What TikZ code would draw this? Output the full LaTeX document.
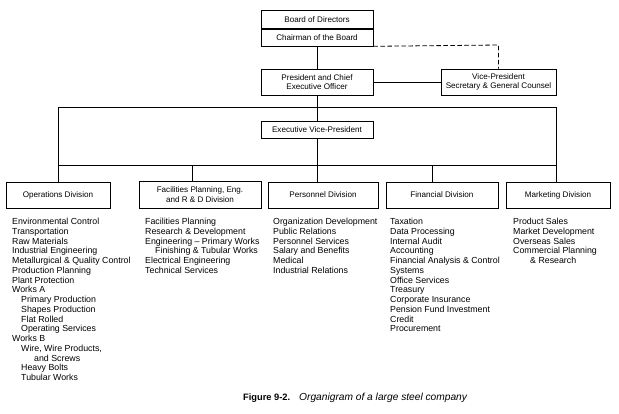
\documentclass[tikz,border=0pt]{standalone}
\usepackage{fontspec}
\setmainfont{Liberation Sans}
\begin{document}
\begin{tikzpicture}[x=1pt,y=-1pt,
  box/.style={draw, line width=0.7pt, inner sep=0pt, align=center, font=\fontsize{8.1}{9.6}\selectfont},
  ln/.style={line width=0.8pt},
  dln/.style={line width=0.8pt, dash pattern=on 4.5pt off 2.5pt},
  listtext/.style={anchor=north west, inner sep=0pt, align=left, font=\fontsize{8.8}{9.75}\selectfont}]
\useasboundingbox (0,0) rectangle (619,413);
% top boxes
\node[box, minimum width=112pt, minimum height=17.5pt] (board) at (317,19.5) {Board of Directors};
\node[box, minimum width=112pt, minimum height=17pt, anchor=north] (chair) at (board.south) {Chairman of the Board};
\node[box, minimum width=112pt, minimum height=26pt] (pres) at (317,82) {President and Chief\\Executive Officer};
\node[box, minimum width=115pt, minimum height=26pt] (vp) at (498.5,82) {Vice-President\\Secretary \& General Counsel};
\node[box, minimum width=112pt, minimum height=17pt] (evp) at (317,130) {Executive Vice-President};
% divisions
\node[box, minimum width=104pt, minimum height=26pt] (ops) at (58,195) {Operations Division};
\node[box, minimum width=122pt, minimum height=27pt] (fac) at (200,194.5) {Facilities Planning, Eng.\\and R \& D Division};
\node[box, minimum width=110pt, minimum height=26pt] (per) at (323,195) {Personnel Division};
\node[box, minimum width=112pt, minimum height=26pt] (fin) at (442,195) {Financial Division};
\node[box, minimum width=104pt, minimum height=26pt] (mkt) at (558,195) {Marketing Division};
% connector coordinates
\coordinate (tl) at (58,107);
\coordinate (tr) at (556,107);
\coordinate (bl) at (58,165);
\coordinate (br) at (556,165);
\coordinate (dc) at (498.5,45);
% connectors
\draw[ln] (chair) -- (pres);
\draw[ln] (pres) -- (vp);
\draw[dln] (chair.south east) -- (dc) -- (vp.north);
\draw[ln] (pres) -- (evp);
\draw[ln] (tl) -- (tr);
\draw[ln] (tl) -- (bl) -- (br);
\draw[ln] (tr) -- (mkt.north -| tr);
\draw[ln] (evp) -- (evp.south |- bl);
\draw[ln] (bl) -- (ops.north -| bl);
\draw[ln] (fac.north -| 192,0) -- (192,165);
\draw[ln] (per.north -| 317,0) -- (317,165);
\draw[ln] (fin.north -| 432,0) -- (432,165);
% lists
\node[listtext] (opsl) at (12,218) {Environmental Control\\Transportation\\Raw Materials\\Industrial Engineering\\Metallurgical \& Quality Control\\Production Planning\\Plant Protection\\Works A\\\hspace{9pt}Primary Production\\\hspace{9pt}Shapes Production\\\hspace{9pt}Flat Rolled\\\hspace{9pt}Operating Services\\Works B\\\hspace{9pt}Wire, Wire Products,\\\hspace{22pt}and Screws\\\hspace{9pt}Heavy Bolts\\\hspace{9pt}Tubular Works};
\node[listtext] (facl) at (145,218) {Facilities Planning\\Research \& Development\\Engineering -- Primary Works\\\hspace{10pt}Finishing \& Tubular Works\\Electrical Engineering\\Technical Services};
\node[listtext] (perl) at (273,218) {Organization Development\\Public Relations\\Personnel Services\\Salary and Benefits\\Medical\\Industrial Relations};
\node[listtext] (finl) at (390,218) {Taxation\\Data Processing\\Internal Audit\\Accounting\\Financial Analysis \& Control\\Systems\\Office Services\\Treasury\\Corporate Insurance\\Pension Fund Investment\\Credit\\Procurement};
\node[listtext] (mktl) at (513,218) {Product Sales\\Market Development\\Overseas Sales\\Commercial Planning\\\hspace{17pt}\& Research};
% caption
\node[anchor=west, inner sep=0pt] (cap) at (243,398) {\fontsize{9.3}{11}\selectfont\textbf{Figure 9-2.}\hspace{9pt}\fontsize{10.2}{11}\selectfont\textit{Organigram of a large steel company}};
\end{tikzpicture}
\end{document}
